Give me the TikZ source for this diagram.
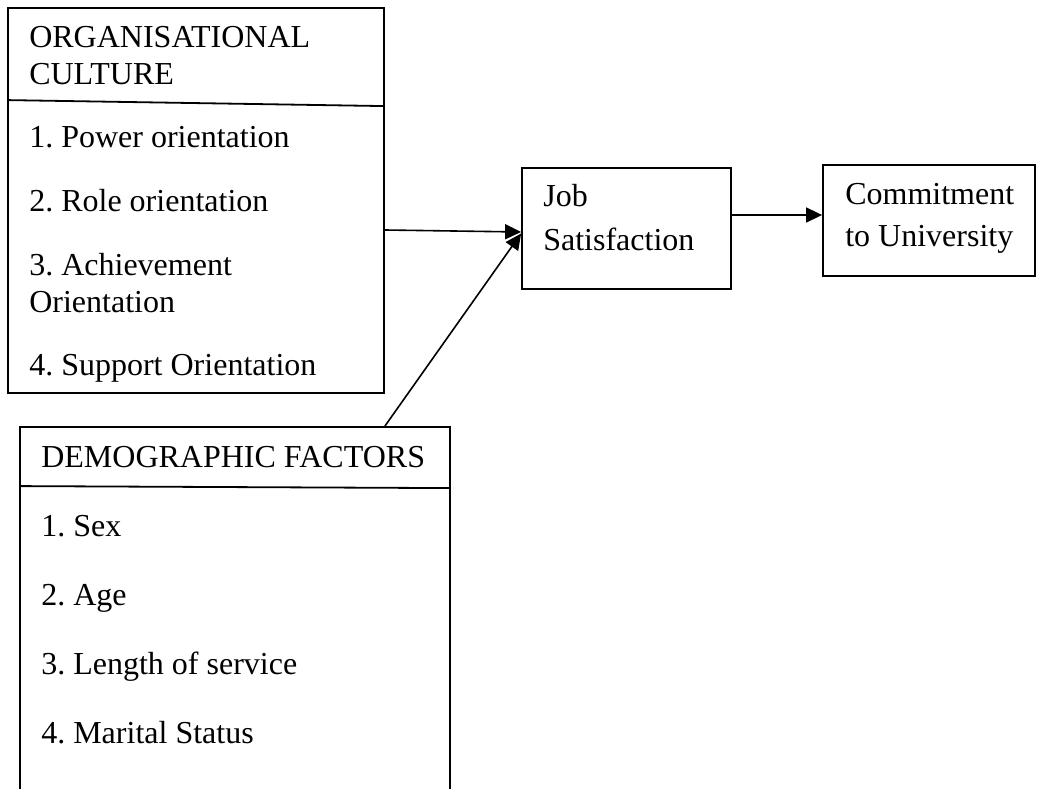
\documentclass[tikz,border=0pt]{standalone}
\usepackage{fontspec}
\setmainfont{Liberation Serif}
\frenchspacing
\usetikzlibrary{positioning}
\usetikzlibrary{arrows.meta}

\begin{document}
\begin{tikzpicture}[x=1pt,y=1pt,>={Triangle[length=16pt,width=15pt]},
                    semithick]
\tikzstyle{box}=[rectangle,draw=black,line width=1.8pt,inner sep=0pt]
\tikzstyle{txt}=[inner sep=0pt,anchor=base west,align=left]
\tikzset{font=\fontsize{32pt}{37.5pt}\selectfont}

\useasboundingbox (0,0) rectangle (1039,789);

        \node[box,minimum width=376pt,minimum height=385pt]        (C) at (196,588.5) {};
        \node[box,minimum width=430pt,minimum height=380pt]        (D) at (235,172)   {};
        \node[box,minimum width=209pt,minimum height=121pt]        (J) at (626.5,560.5) {};
        \node[box,minimum width=212pt,minimum height=111pt]        (U) at (929,568.5) {};

        \draw[line width=1.8pt] ([yshift=-93pt]C.north west) -- ([yshift=-99pt]C.north east);
        \draw[line width=1.8pt] ([yshift=-60pt]D.north west) -- ([yshift=-62pt]D.north east);

        % base of a two-line node is its last line
        \node[txt]                                        (ct) at (29,704) {ORGANISATIONAL\\CULTURE};
        \node[txt]                                        (c1) at (29,641) {1. Power orientation};
        \node[txt,below=64pt of c1.base west,anchor=base west]  (c2) {2. Role orientation};
        \node[txt,below=101pt of c2.base west,anchor=base west] (c3) {3. Achievement\\Orientation};
        \node[txt,below=63pt of c3.base west,anchor=base west]  (c4) {4. Support Orientation};

        \node[txt]                                        (dt) at (41,321) {DEMOGRAPHIC FACTORS};
        \node[txt]                                        (d1) at (41,252) {1. Sex};
        \node[txt,below=68.7pt of d1.base west,anchor=base west] (d2) {2. Age};
        \node[txt,below=68.7pt of d2.base west,anchor=base west] (d3) {3. Length of service};
        \node[txt,below=68.7pt of d3.base west,anchor=base west] (d4) {4. Marital Status};

        \node[txt,font=\fontsize{32pt}{44pt}\selectfont]  (j) at (543,538) {Job\\Satisfaction};
        \node[txt,font=\fontsize{32pt}{42pt}\selectfont]  (u) at (845,542) {Commitment\\to University};

        \path[->,line width=1.6pt]
        ([yshift=-29.5pt]C.east)   edge            ([yshift=-3.5pt]J.west)
        (D.north -| C.east)        edge            ([yshift=-5pt]J.west)
        ([yshift=13.5pt]J.east)    edge            ([yshift=5.5pt]U.west)
        ; %end path

\end{tikzpicture}
\end{document}
